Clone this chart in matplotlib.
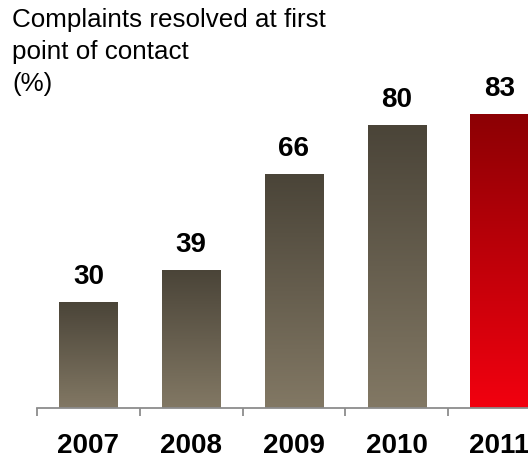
import numpy as np
import matplotlib
matplotlib.use('Agg')
import matplotlib.pyplot as plt
from matplotlib.colors import LinearSegmentedColormap

years = ['2007', '2008', '2009', '2010', '2011']
resolved_pct = [30, 39, 66, 80, 83]
title = 'Complaints resolved at first\npoint of contact\n(%)'

plt.rcParams['font.family'] = ['Liberation Sans', 'DejaVu Sans']

# bottom-to-top gradients
grey_cmap = LinearSegmentedColormap.from_list('grey', ['#827864', '#4a4438'])
red_cmap = LinearSegmentedColormap.from_list('red', ['#f2000f', '#8c0004'])

fig = plt.figure(figsize=(5.28, 4.59), dpi=100)
# axis starts at the first separator tick and runs past the right edge
ax = fig.add_axes([37 / 528, 51 / 459, 5 * 102.75 / 528, 354 / 459])

x = np.arange(len(years))
bar_width = 0.565
bars = ax.bar(x, resolved_pct, width=bar_width, color='none', edgecolor='none')

grad = np.linspace(0, 1, 256).reshape(-1, 1)
for i, (bar, val) in enumerate(zip(bars, resolved_pct)):
    cmap = red_cmap if i == len(years) - 1 else grey_cmap
    x0 = bar.get_x()
    img = ax.imshow(grad, cmap=cmap, origin='lower', aspect='auto',
                    extent=[x0, x0 + bar.get_width(), 0, val], zorder=2)
    img.set_clip_path(bar)
    ax.annotate(f'{val}', xy=(i, val), xytext=(0, 13), textcoords='offset points',
                ha='center', va='baseline', fontsize=20, fontweight='bold')

ax.set_xlim(-0.5, len(years) - 0.5)
ax.set_ylim(0, 100)

for side in ['left', 'right', 'top']:
    ax.spines[side].set_visible(False)
ax.spines['bottom'].set_color('#8c8c8c')
ax.spines['bottom'].set_linewidth(1.3)

ax.set_yticks([])
ax.set_xticks(x)
ax.set_xticklabels(years, fontsize=20, fontweight='bold')
ax.tick_params(axis='x', which='major', length=0, pad=18)
ax.set_xticks(np.arange(len(years) + 1) - 0.5, minor=True)
ax.tick_params(axis='x', which='minor', length=6, width=1.3, color='#8c8c8c')

fig.text(12 / 528, 1 - 8 / 459, title, ha='left', va='top', fontsize=18.7,
         linespacing=1.42)

fig.savefig('out.png', dpi=100)
